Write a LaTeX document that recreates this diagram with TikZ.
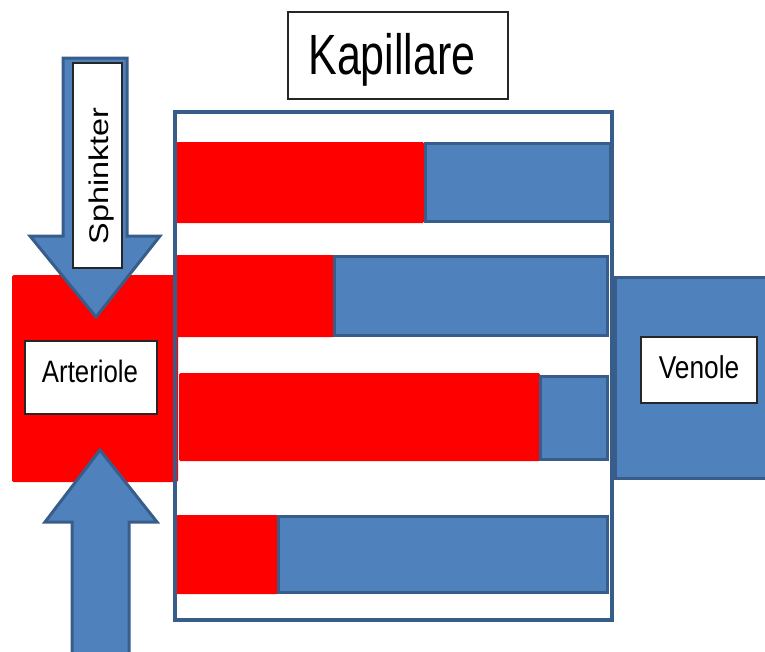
\documentclass[tikz,border=0pt]{standalone}
\usepackage{fontspec}
\setmainfont{Liberation Sans}
\definecolor{artred}{HTML}{FF0000}
\definecolor{venblue}{HTML}{4F81BD}
\definecolor{edgeblue}{HTML}{385D8A}
\newcommand{\tallText}[3]{\scalebox{1}[#2]{\fontsize{#1}{#1}\selectfont #3}}
\tikzset{
  redpart/.style={fill=artred, rounded corners=1.5pt},
  bluepart/.style={fill=venblue, draw=edgeblue, line width=3pt},
  labelbox/.style={draw=black!85, line width=1.2pt, fill=white, inner sep=0pt},
  flowarrow/.style={fill=venblue, draw=edgeblue, line width=3pt, line join=miter},
}
\begin{document}
\begin{tikzpicture}[x=1pt, y=-1pt]
\useasboundingbox (0,0) rectangle (765,651);
\clip (0,0) rectangle (765,651);

% arteriole (red inflow)
\fill[redpart] (12,275) rectangle (178,482);

% venule (blue outflow)
\draw[bluepart] (615,277) rectangle (775,478);

% capillary bed: four channels, oxygenated part red, deoxygenated part blue
\fill[redpart] (176,142) rectangle (424,223);
\draw[bluepart] (425,143.5) rectangle (610,221.5);

\fill[redpart] (176,255) rectangle (334,337);
\draw[bluepart] (334,256.5) rectangle (607,335.5);

\fill[redpart] (179,373) rectangle (540,461);
\draw[bluepart] (540,376) rectangle (607,459);

\fill[redpart] (176,515) rectangle (278,594);
\draw[bluepart] (278,516.5) rectangle (607,592.5);

% capillary frame
\draw[edgeblue, line width=3.5pt] (175,112) rectangle (612,620);

% sphincter arrow pressing from above
\draw[flowarrow] (63,58) -- (127,58) -- (127,236) -- (160,236) -- (96,317)
  -- (30,236) -- (63,236) -- cycle;
\node[labelbox, minimum width=49pt, minimum height=205pt] (sphbox) at (97.5,165.5) {};
\node[rotate=90, anchor=base, inner sep=0pt] (sph) at (108,176)
  {\scalebox{1.2}[1]{\fontsize{27}{27}\selectfont Sphinkter}};

% pressure arrow from below
\draw[flowarrow] (72,660) -- (72,522) -- (45,522) -- (100,450) -- (157,522)
  -- (129,522) -- (129,660);

% labels
\node[labelbox, minimum width=132pt, minimum height=73pt] (artbox) at (91,377.5) {};
\node[anchor=base, inner sep=0pt] (art) at (90,382) {\tallText{25.8}{1.2}{Arteriole}};

\node[labelbox, minimum width=116pt, minimum height=66pt] (venbox) at (699,370) {};
\node[anchor=base, inner sep=0pt] (ven) at (699,378) {\tallText{26.3}{1.2}{Venole}};

\node[labelbox, minimum width=220pt, minimum height=87pt] (kapbox) at (398,55.5) {};
\node[anchor=base, inner sep=0pt] (kap) at (392,74) {\tallText{43}{1.32}{Kapillare}};
\end{tikzpicture}
\end{document}
